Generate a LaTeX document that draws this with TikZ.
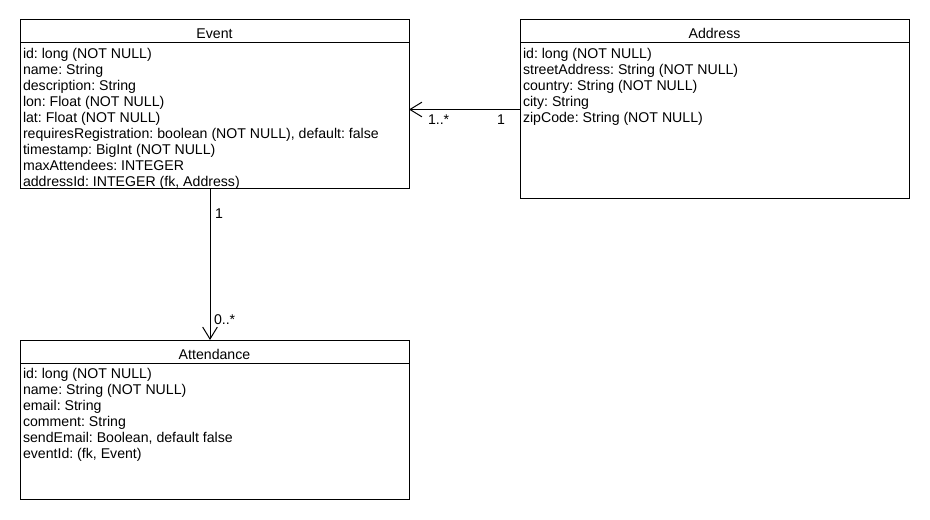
\documentclass[tikz,border=0pt]{standalone}
\usepackage{fontspec}
\setmainfont{Liberation Sans}
\frenchspacing
\usetikzlibrary{arrows.meta}
\begin{document}
\frenchspacing
\begin{tikzpicture}[x=0.75pt,y=-0.75pt,
  every node/.style={inner sep=0pt, outer sep=0pt},
  umlbox/.style={draw=black, line width=0.75pt, fill=white, anchor=north west, minimum width=291.75pt},
  ttl/.style={font=\fontsize{10.6}{12}\selectfont, anchor=base},
  attr/.style={font=\fontsize{10.6}{12}\selectfont, anchor=base west},
  mult/.style={font=\fontsize{10.6}{12}\selectfont, anchor=base west},
  divider/.style={draw=black, line width=0.75pt},
  assoc/.style={draw=black, line width=0.75pt, -{Straight Barb[length=9pt,width=11pt]}}]
\path[use as bounding box, fill=white] (0,0) rectangle (930,520);

% boxes
\node[umlbox, minimum height=126.75pt] (event) at (20,20) {};
\node[umlbox, minimum height=134.25pt] (address) at (520,20) {};
\node[umlbox, minimum height=119.25pt] (att) at (20,340) {};

\foreach \b in {event,address,att}
  \draw[divider] ([yshift=-17.25pt]\b.north west) -- ([yshift=-17.25pt]\b.north east);

% titles
\node[ttl] (event-t) at ([shift={(0,19)}]event.north) {Event};
\node[ttl] (address-t) at ([shift={(0,19)}]address.north) {Address};
\node[ttl] (att-t) at ([shift={(0,19)}]att.north) {Attendance};

% attributes
\foreach \t [count=\i] in {{id: long (NOT NULL)},{name: String},{description: String},{lon: Float (NOT NULL)},{lat: Float (NOT NULL)},{requiresRegistration: boolean (NOT NULL), default: false},{timestamp: BigInt (NOT NULL)},{maxAttendees: INTEGER},{addressId: INTEGER (fk, Address)}}
  \node[attr] (event-a\i) at ([shift={(3,38.5+16*\i-16)}]event.north west) {\t};

\foreach \t [count=\i] in {{id: long (NOT NULL)},{streetAddress: String (NOT NULL)},{country: String (NOT NULL)},{city: String},{zipCode: String (NOT NULL)}}
  \node[attr] (address-a\i) at ([shift={(3,38.5+16*\i-16)}]address.north west) {\t};

\foreach \t [count=\i] in {{id: long (NOT NULL)},{name: String (NOT NULL)},{email: String},{comment: String},{sendEmail: Boolean, default false},{eventId: (fk, Event)}}
  \node[attr] (att-a\i) at ([shift={(3,38.5+16*\i-16)}]att.north west) {\t};

% connectors
\draw[assoc] (address.west) -- (address.west -| event.east);
\coordinate (vtop) at ([xshift=-3.375pt]event.south);
\draw[assoc] (vtop) -- (vtop |- att.north);

% multiplicities
\node[mult] (m1) at (428,124.5) {1..*};
\node[mult] (m2) at (497,124.5) {1};
\node[mult] (m3) at (215,218.5) {1};
\node[mult] (m4) at (214,324) {0..*};
\end{tikzpicture}
\end{document}
